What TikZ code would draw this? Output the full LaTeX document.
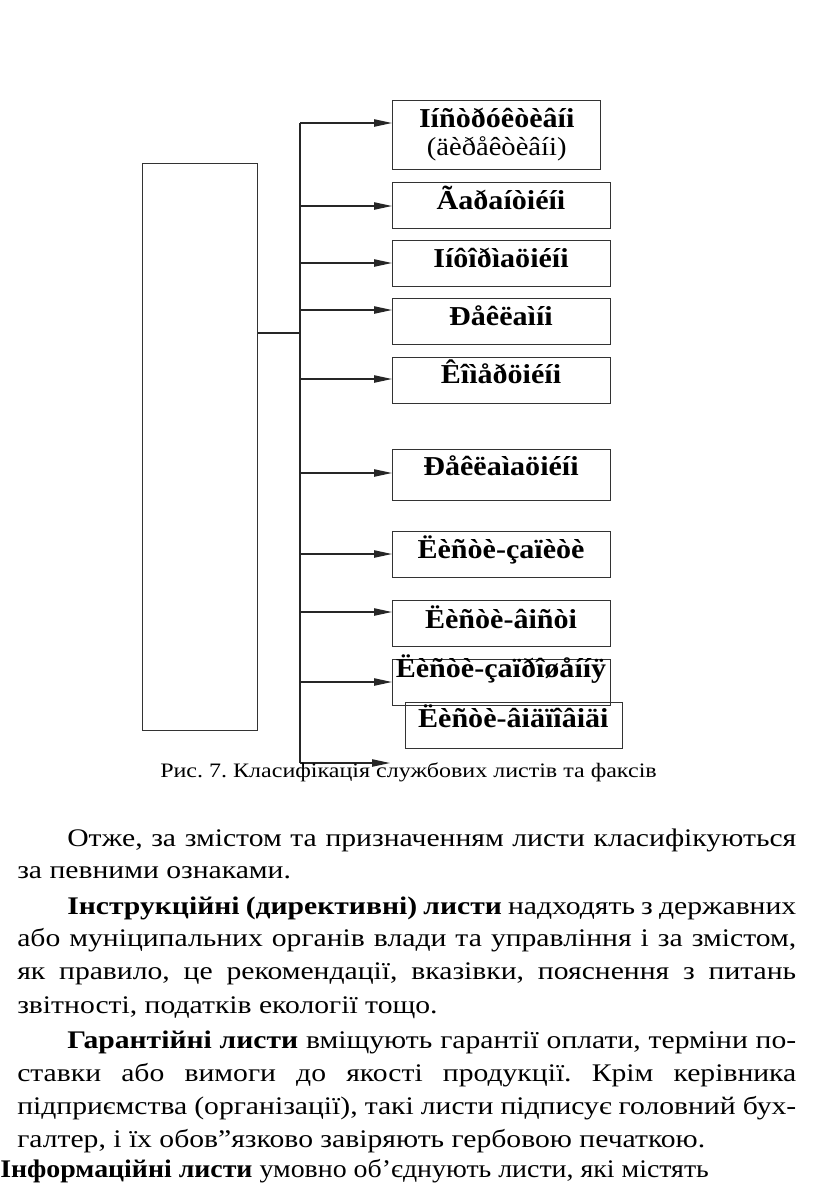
\documentclass[tikz,border=0pt]{standalone}
\usepackage{fontspec}
\setmainfont{Liberation Serif}[FakeStretch=1.17]
\newfontfamily\lblfont{Liberation Serif}[FakeStretch=1.1]
\newfontfamily\narrowfont{Liberation Serif}[FakeStretch=1.1]
\usetikzlibrary{arrows.meta,positioning}
\frenchspacing

\tikzset{
  line/.style={line width=1pt, draw=black!85},
  arr/.style={line width=1pt, draw=black!85, -{Triangle[length=13.5pt,width=5.5pt]}},
  kbox/.style={draw=black!80, line width=1pt, inner sep=0pt, anchor=north west,
    minimum width=163.5pt, minimum height=34.5pt},
  lbl/.style={anchor=base, inner sep=0pt, font=\lblfont\fontsize{20.5}{24}\selectfont\bfseries},
  txt/.style={anchor=base west, inner sep=0pt, font=\fontsize{19}{22}\selectfont}
}
\newcommand{\jfull}[1]{\makebox[584.25pt][s]{#1}}
\newcommand{\jind}[1]{\makebox[546.75pt][s]{#1}}

\begin{document}
\begin{tikzpicture}[x=0.75pt,y=-0.75pt]
    \useasboundingbox (0,0) rectangle (816,1190);
    % Ліва рамка
    \node[draw=black!80, line width=1pt, inner sep=0pt, anchor=north west,
      minimum width=86.25pt, minimum height=425.25pt] (src) at (142,163) {};
    % Стовбур
    \coordinate (br) at (300,333);
    \coordinate (top) at (300,123);
    \coordinate (bot) at (300,763);
    \draw[line] (src.east |- br) -- (br);
    \draw[line] (top) -- (bot);
    % Рамки
    \node[kbox, minimum width=156pt, minimum height=51.75pt] (box1) at (392,100) {};
    \node[kbox] (box2) at (392,182) {};
    \node[kbox] (box3) at (392,240) {};
    \node[kbox] (box4) at (392,298) {};
    \node[kbox] (box5) at (392,357) {};
    \node[kbox, minimum height=38.25pt] (box6) at (392,449) {};
    \node[kbox] (box7) at (392,531) {};
    \node[kbox] (box8) at (392,600) {};
    \node[kbox] (box9) at (392,659) {};
    \node[kbox, minimum width=162.75pt] (box10) at (405,702) {};
    % Написи
    \node[lbl] (t1) at (496.7,127) {Iíñòðóêòèâíi};
    \node[lbl, font=\lblfont\fontsize{19.5}{22}\selectfont] (t1s) at (496.7,155) {(äèðåêòèâíi)};
    \node[lbl] (t2) at (501,209) {Ãaðaíòiéíi};
    \node[lbl] (t3) at (501,267) {Iíôîðìaöiéíi};
    \node[lbl] (t4) at (501,325) {Ðåêëaìíi};
    \node[lbl] (t5) at (501,383) {Êîìåðöiéíi};
    \node[lbl] (t6) at (501,475) {Ðåêëaìaöiéíi};
    \node[lbl] (t7) at (501,558) {Ëèñòè-çaïèòè};
    \node[lbl] (t8) at (501,628) {Ëèñòè-âiñòi};
    \node[lbl] (t9) at (501,677) {Ëèñòè-çaïðîøåííÿ};
    \node[lbl] (t10) at (513.3,727) {Ëèñòè-âiäïîâiäi};
    % Стрілки
    \coordinate (a1) at (300,123);
    \coordinate (a2) at (300,206);
    \coordinate (a3) at (300,263);
    \coordinate (a4) at (300,310);
    \coordinate (a5) at (300,379);
    \coordinate (a6) at (300,473);
    \coordinate (a7) at (300,554);
    \coordinate (a8) at (300,612);
    \coordinate (a9) at (300,682);
    \coordinate (end) at (390,763);
    \draw[arr] (a1) -- (a1 -| box1.west);
    \draw[arr] (a2) -- (a2 -| box2.west);
    \draw[arr] (a3) -- (a3 -| box3.west);
    \draw[arr] (a4) -- (a4 -| box4.west);
    \draw[arr] (a5) -- (a5 -| box5.west);
    \draw[arr] (a6) -- (a6 -| box6.west);
    \draw[arr] (a7) -- (a7 -| box7.west);
    \draw[arr] (a8) -- (a8 -| box8.west);
    \draw[arr] (a9) -- (a9 -| box9.west);
    \draw[arr] (bot) -- (end);
    % Підпис
    \node[txt, font=\fontsize{15.4}{19}\selectfont] (cap) at (160,777) {Рис. 7. Класифікація службових листів та факсів};
    % Текст
    \node[txt] (l1) at (67,846) {\jind{Отже, за змістом та призначенням листи класифікуються}};
    \node[txt] (l2) at (17,878) {за певними ознаками.};
    \node[txt] (l3) at (67,914) {\jind{\textbf{Інструкційні (директивні) листи} надходять з державних}};
    \node[txt] (l4) at (17,946) {\jfull{або муніципальних органів влади та управління і за змістом,}};
    \node[txt] (l5) at (17,979) {\jfull{як правило, це рекомендації, вказівки, пояснення з питань}};
    \node[txt] (l6) at (17,1013) {звітності, податків екології тощо.};
    \node[txt] (l7) at (67,1048) {\jind{\textbf{Гарантійні листи} вміщують гарантії оплати, терміни по-}};
    \node[txt] (l8) at (17,1081) {\jfull{ставки або вимоги до якості продукції. Крім керівника}};
    \node[txt] (l9) at (17,1114) {\jfull{підприємства (організації), такі листи підписує головний бух-}};
    \node[txt] (l10) at (17,1147) {галтер, і їх обов”язково завіряють гербовою печаткою.};
    \node[txt, font=\narrowfont\fontsize{19}{22}\selectfont] (l11) at (0,1177) {\textbf{Інформаційні листи} умовно об’єднують листи, які містять};
\end{tikzpicture}
\end{document}
